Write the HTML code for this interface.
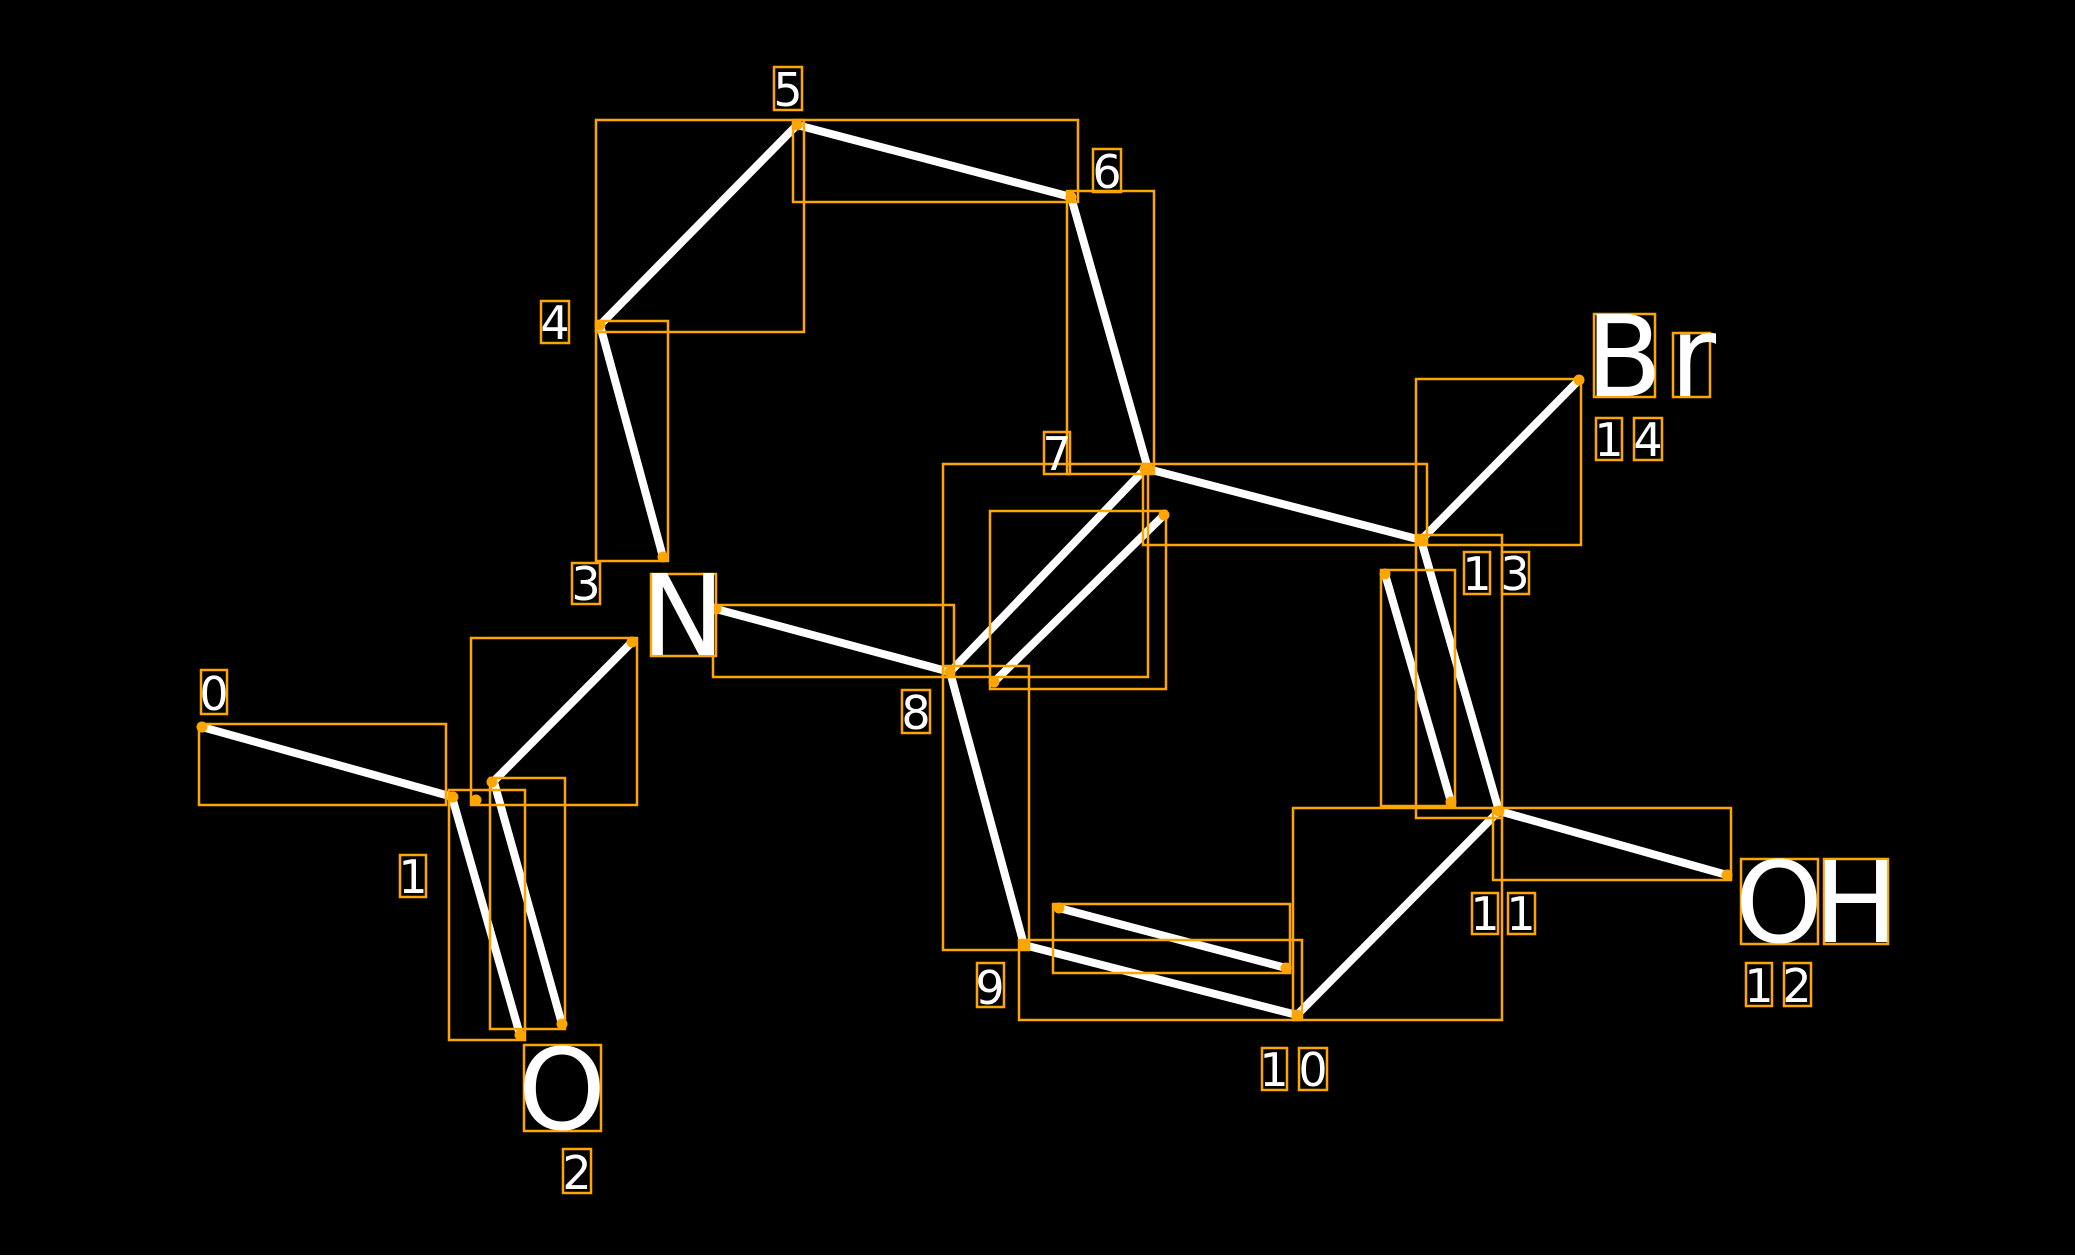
<!DOCTYPE html>
<html><head><style>html,body{margin:0;padding:0;background:#000}svg{display:block}</style></head><body>
<svg width="2075" height="1257" viewBox="0 0 2075 1257" xmlns="http://www.w3.org/2000/svg">
<rect x="0" y="0" width="2075" height="1257" fill="#000"/>
<rect x="0" y="1255" width="2075" height="2" fill="#fff"/>
<g stroke="#fff" stroke-width="8" stroke-linecap="butt">
<line x1="202" y1="727" x2="453" y2="797"/>
<line x1="490" y1="785" x2="632" y2="642"/>
<line x1="452" y1="797" x2="520" y2="1035"/>
<line x1="494" y1="782" x2="562" y2="1024"/>
<line x1="716" y1="609" x2="950" y2="672"/>
<line x1="950" y1="672" x2="1145" y2="469"/>
<line x1="994" y1="682" x2="1164" y2="515"/>
<line x1="600" y1="325" x2="663" y2="557"/>
<line x1="600" y1="325" x2="797" y2="125"/>
<line x1="797" y1="125" x2="1071" y2="197"/>
<line x1="1071" y1="197" x2="1148" y2="469"/>
<line x1="1148" y1="469" x2="1421" y2="540"/>
<line x1="1421" y1="540" x2="1579" y2="380"/>
<line x1="1421" y1="540" x2="1499" y2="811"/>
<line x1="1385" y1="574" x2="1451" y2="802"/>
<line x1="1499" y1="811" x2="1727" y2="875"/>
<line x1="1499" y1="811" x2="1297" y2="1015"/>
<line x1="1297" y1="1015" x2="1024" y2="945"/>
<line x1="1059" y1="908" x2="1286" y2="968"/>
<line x1="950" y1="672" x2="1024" y2="945"/>
</g>
<g fill="none" stroke="#ffa500" stroke-width="2.5">
<rect x="199" y="724" width="247" height="81"/>
<rect x="471" y="638" width="166" height="167"/>
<rect x="449" y="790" width="76" height="250"/>
<rect x="490" y="778" width="75" height="251"/>
<rect x="713" y="605" width="241" height="72"/>
<rect x="943" y="464" width="205" height="213"/>
<rect x="990" y="511" width="176" height="178"/>
<rect x="596" y="321" width="72" height="240"/>
<rect x="596" y="120" width="208" height="212"/>
<rect x="793" y="120" width="285" height="82"/>
<rect x="1067" y="191" width="87" height="283"/>
<rect x="1143" y="464" width="284" height="81"/>
<rect x="1416" y="379" width="165" height="166"/>
<rect x="1416" y="535" width="86" height="283"/>
<rect x="1381" y="570" width="74" height="236"/>
<rect x="1493" y="808" width="238" height="72"/>
<rect x="1293" y="808" width="209" height="212"/>
<rect x="1019" y="940" width="283" height="80"/>
<rect x="1053" y="904" width="237" height="69"/>
<rect x="943" y="666" width="86" height="284"/>
<rect x="201" y="670" width="26" height="44"/>
<rect x="400" y="855" width="26" height="42"/>
<rect x="563" y="1149" width="28" height="44"/>
<rect x="572" y="563" width="28" height="41"/>
<rect x="541" y="301" width="28" height="42"/>
<rect x="774" y="67" width="28" height="43"/>
<rect x="1093" y="149" width="28" height="43"/>
<rect x="1044" y="432" width="26" height="42"/>
<rect x="902" y="690" width="28" height="43"/>
<rect x="977" y="963" width="27" height="44"/>
<rect x="1262" y="1048" width="25" height="42"/>
<rect x="1299" y="1048" width="28" height="42"/>
<rect x="1472" y="893" width="26" height="41"/>
<rect x="1508" y="893" width="27" height="41"/>
<rect x="1746" y="963" width="26" height="43"/>
<rect x="1784" y="963" width="27" height="43"/>
<rect x="1464" y="552" width="26" height="42"/>
<rect x="1502" y="552" width="27" height="42"/>
<rect x="1596" y="418" width="26" height="42"/>
<rect x="1634" y="418" width="28" height="42"/>
<rect x="651" y="574" width="65" height="82"/>
<rect x="524" y="1045" width="77" height="86"/>
<rect x="1741" y="859" width="77" height="85"/>
<rect x="1824" y="859" width="64" height="85"/>
<rect x="1594" y="314" width="61" height="83"/>
<rect x="1673" y="333" width="37" height="64"/>
</g>
<g fill="#ffa500">
<circle cx="202" cy="727" r="5.5"/><circle cx="453" cy="797" r="5.5"/><circle cx="476" cy="800" r="5.5"/>
<circle cx="632" cy="642" r="5.5"/><circle cx="492" cy="782" r="5.5"/><circle cx="520" cy="1035" r="5.5"/>
<circle cx="562" cy="1024" r="5.5"/><circle cx="716" cy="609" r="5.5"/><circle cx="950" cy="672" r="5.5"/>
<circle cx="1145" cy="469" r="5.5"/><circle cx="994" cy="682" r="5.5"/><circle cx="1164" cy="515" r="5.5"/>
<circle cx="600" cy="325" r="5.5"/><circle cx="663" cy="557" r="5.5"/><circle cx="797" cy="125" r="5.5"/>
<circle cx="1071" cy="197" r="5.5"/><circle cx="1148" cy="469" r="5.5"/><circle cx="1421" cy="540" r="5.5"/>
<circle cx="1579" cy="380" r="5.5"/><circle cx="1499" cy="811" r="5.5"/><circle cx="1385" cy="574" r="5.5"/>
<circle cx="1451" cy="802" r="5.5"/><circle cx="1727" cy="875" r="5.5"/><circle cx="1297" cy="1015" r="5.5"/>
<circle cx="1024" cy="945" r="5.5"/><circle cx="1059" cy="908" r="5.5"/><circle cx="1286" cy="968" r="5.5"/>
</g>
<g fill="#fff" font-family="'DejaVu Sans','Liberation Sans',sans-serif" font-size="46" text-anchor="middle">
<text x="214" y="710">0</text><text x="413" y="893">1</text><text x="577" y="1189">2</text>
<text x="586" y="600">3</text><text x="555" y="339">4</text><text x="788" y="106">5</text>
<text x="1107" y="188">6</text><text x="1057" y="470">7</text><text x="916" y="729">8</text>
<text x="990" y="1004">9</text><text x="1274" y="1086">1</text><text x="1313" y="1086">0</text>
<text x="1485" y="930">1</text><text x="1521" y="930">1</text><text x="1759" y="1002">1</text>
<text x="1797" y="1002">2</text><text x="1477" y="590">1</text><text x="1515" y="590">3</text>
<text x="1609" y="456">1</text><text x="1648" y="456">4</text>
</g>
<g fill="#fff" font-family="'DejaVu Sans','Liberation Sans',sans-serif" font-size="112" text-anchor="middle">
<text x="683" y="655">N</text><text x="562" y="1129">O</text><text x="1779" y="942">O</text>
<text x="1856" y="942">H</text><text x="1624" y="396">B</text><text x="1693" y="396">r</text>
</g>
</svg>
</body></html>
